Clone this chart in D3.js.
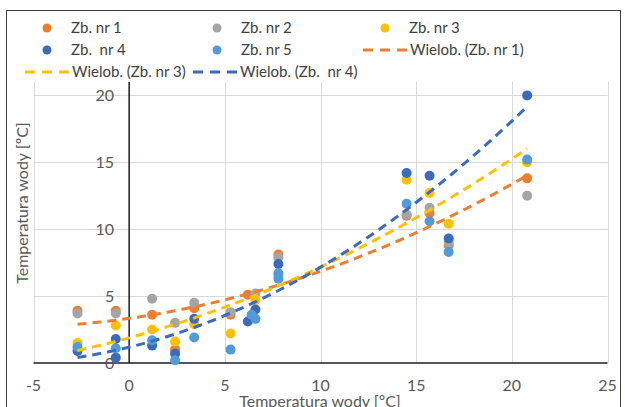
<!DOCTYPE html>
<html>
<head>
<meta charset="utf-8">
<script src="https://cdn.jsdelivr.net/npm/d3@7"></script>
<style>
  body { margin: 0; background: #fff; }
  text { font-family: Lato, "Liberation Sans", sans-serif; }
</style>
</head>
<body>
<div id="vis"></div>
<script>
// series names and colours
const seriesNames = ['Zb. nr 1', 'Zb. nr 2', 'Zb. nr 3', 'Zb.  nr 4', 'Zb. nr 5'];
const seriesColors = ['#ED7D31', '#A5A5A5', '#FFC000', '#3B6BBC', '#519BD8'];

const x1 = [-2.7, -0.7, 1.2, 2.4, 3.4, 5.3, 6.2, 7.8, 14.5, 15.7, 16.7, 20.8];
const y1 = [3.9, 3.9, 3.6, 1.0, 4.1, 3.6, 5.1, 8.1, 11.0, 11.2, 8.8, 13.8];
const x2 = [-2.7, -0.7, 1.2, 2.4, 3.4, 5.3, 6.6, 7.8, 14.5, 15.7, 16.7, 20.8];
const y2 = [3.7, 3.7, 4.8, 3.0, 4.5, 3.8, 5.2, 7.9, 11.1, 11.6, 9.0, 12.5];
const x3 = [-2.7, -0.7, 1.2, 2.4, 3.4, 5.3, 6.6, 7.8, 14.5, 15.7, 16.7, 20.8];
const y3 = [1.5, 2.8, 2.5, 1.6, 2.9, 2.2, 4.7, 6.5, 13.7, 12.7, 10.4, 15.0];
const x4 = [-2.7, -0.7, -0.7, 1.2, 2.4, 3.4, 6.2, 6.6, 7.8, 14.5, 15.7, 16.7, 20.8];
const y4 = [0.9, 1.8, 0.4, 1.3, 0.7, 3.3, 3.1, 4.0, 7.4, 14.2, 14.0, 9.3, 20.0];
const x5 = [-2.7, -0.7, 1.2, 2.4, 3.4, 5.3, 6.4, 6.6, 7.8, 7.8, 14.5, 15.7, 16.7, 20.8];
const y5 = [1.2, 1.1, 1.7, 0.2, 1.9, 1.0, 3.6, 3.3, 6.7, 6.3, 11.9, 10.6, 8.3, 15.2];

const xTicks = [-5, 0, 5, 10, 15, 20, 25];
const yTicks = [0, 5, 10, 15, 20];

// polynomial trendlines (order 2) for these series
const trendSeries = [0, 2, 3];
const trendNames = ['Wielob. (Zb. nr 1)', 'Wielob. (Zb. nr 3)', 'Wielob. (Zb.  nr 4)'];

const axisTitle = 'Temperatura wody [ºC]';

const allX = [x1, x2, x3, x4, x5];
const allY = [y1, y2, y3, y4, y5];

const svg = d3.select('#vis')
.append('svg')
.attr('width', 625)
.attr('height', 407);

// chart border
svg.append('rect')
.attr('x', 6.5)
.attr('y', 10.5)
.attr('width', 614)
.attr('height', 420)
.attr('fill', 'none')
.attr('stroke', '#404040')
.attr('stroke-width', 1);

const x = d3.scaleLinear().domain([-5, 25]).range([33.5, 607.5]);
const y = d3.scaleLinear().domain([0, 21]).range([363, 82]);

// gridlines
svg.selectAll('.hgrid')
.data(yTicks.filter(d => d !== 0))
.enter()
.append('line')
.attr('class', 'hgrid')
.attr('x1', x(-5))
.attr('x2', x(25))
.attr('y1', d => Math.round(y(d)) + 0.5)
.attr('y2', d => Math.round(y(d)) + 0.5)
.attr('stroke', '#d9d9d9');

svg.selectAll('.vgrid')
.data(xTicks.filter(d => d !== 0))
.enter()
.append('line')
.attr('class', 'vgrid')
.attr('x1', d => Math.round(x(d)) + 0.5)
.attr('x2', d => Math.round(x(d)) + 0.5)
.attr('y1', y(21))
.attr('y2', y(0))
.attr('stroke', '#d9d9d9');

// axes lines through zero
svg.append('line')
.attr('x1', x(-5))
.attr('x2', x(25))
.attr('y1', y(0))
.attr('y2', y(0))
.attr('stroke', '#1a1a2e')
.attr('stroke-width', 1.5);

svg.append('line')
.attr('x1', x(0))
.attr('x2', x(0))
.attr('y1', y(21))
.attr('y2', y(0))
.attr('stroke', '#1a1a2e')
.attr('stroke-width', 1.5);

// tick labels
svg.selectAll('.xlabel')
.data(xTicks)
.enter()
.append('text')
.attr('class', 'xlabel')
.attr('x', d => x(d))
.attr('y', 391)
.attr('text-anchor', 'middle')
.attr('font-size', '16px')
.attr('fill', '#595959')
.text(d => d);

svg.selectAll('.ylabel')
.data(yTicks)
.enter()
.append('text')
.attr('class', 'ylabel')
.attr('x', x(0) - 15)
.attr('y', d => y(d))
.attr('dy', '0.35em')
.attr('text-anchor', 'end')
.attr('font-size', '16px')
.attr('fill', '#595959')
.text(d => d);

// axis titles
svg.append('text')
.attr('x', 320)
.attr('y', 407)
.attr('text-anchor', 'middle')
.attr('font-size', '16px')
.attr('fill', '#595959')
.text(axisTitle);

svg.append('text')
.attr('transform', 'translate(28,203) rotate(-90)')
.attr('text-anchor', 'middle')
.attr('font-size', '16px')
.attr('fill', '#595959')
.text(axisTitle);

// points
for (let s = 0; s < 5; s++) {
  const pts = allX[s].map((v, i) => [v, allY[s][i]]);
  svg.append('g')
  .selectAll('circle')
  .data(pts)
  .enter()
  .append('circle')
  .attr('cx', d => x(d[0]))
  .attr('cy', d => y(d[1]))
  .attr('r', 5)
  .attr('fill', seriesColors[s]);
}

// least squares quadratic fit
function fitQuadratic(xs, ys) {
  let S = [0, 0, 0, 0, 0];
  let T = [0, 0, 0];
  for (let i = 0; i < xs.length; i++) {
    let p = 1;
    for (let k = 0; k < 5; k++) { S[k] += p; if (k < 3) T[k] += p * ys[i]; p *= xs[i]; }
  }
  const A = [[S[0], S[1], S[2], T[0]], [S[1], S[2], S[3], T[1]], [S[2], S[3], S[4], T[2]]];
  for (let c = 0; c < 3; c++) {
    for (let r = c + 1; r < 3; r++) {
      const f = A[r][c] / A[c][c];
      for (let k = c; k < 4; k++) A[r][k] -= f * A[c][k];
    }
  }
  const b = [0, 0, 0];
  for (let r = 2; r >= 0; r--) {
    let v = A[r][3];
    for (let k = r + 1; k < 3; k++) v -= A[r][k] * b[k];
    b[r] = v / A[r][r];
  }
  return b;
}

const line = d3.line().x(d => x(d[0])).y(d => y(d[1]));

trendSeries.forEach(s => {
  const b = fitQuadratic(allX[s], allY[s]);
  const lo = d3.min(allX[s]);
  const hi = d3.max(allX[s]);
  const pts = d3.range(0, 61).map(i => {
    const t = lo + (hi - lo) * i / 60;
    return [t, b[0] + b[1] * t + b[2] * t * t];
  });
  svg.append('path')
  .attr('d', line(pts))
  .attr('fill', 'none')
  .attr('stroke', seriesColors[s])
  .attr('stroke-width', 3)
  .attr('stroke-dasharray', '9,6');
});

// legend
const legendItems = [
  {type: 'dot', s: 0, label: seriesNames[0], x: 47, y: 28},
  {type: 'dot', s: 1, label: seriesNames[1], x: 217, y: 28},
  {type: 'dot', s: 2, label: seriesNames[2], x: 385, y: 28},
  {type: 'dot', s: 3, label: seriesNames[3], x: 47, y: 50},
  {type: 'dot', s: 4, label: seriesNames[4], x: 217, y: 50},
  {type: 'line', s: 0, label: trendNames[0], x: 385, y: 50},
  {type: 'line', s: 2, label: trendNames[1], x: 47, y: 72},
  {type: 'line', s: 3, label: trendNames[2], x: 215, y: 72}
];

legendItems.forEach(item => {
  if (item.type === 'dot') {
    svg.append('circle')
    .attr('cx', item.x)
    .attr('cy', item.y)
    .attr('r', 4.5)
    .attr('fill', seriesColors[item.s]);
  } else {
    svg.append('line')
    .attr('x1', item.x - 22)
    .attr('x2', item.x + 22)
    .attr('y1', item.y)
    .attr('y2', item.y)
    .attr('stroke', seriesColors[item.s])
    .attr('stroke-width', 3)
    .attr('stroke-dasharray', '10,7');
  }
  svg.append('text')
  .attr('x', item.type === 'dot' ? item.x + 24 : item.x + 25)
  .attr('y', item.y)
  .attr('dy', '0.35em')
  .attr('font-size', '15px')
  .attr('fill', '#404040')
  .style('white-space', 'pre')
  .text(item.label);
});
</script>
</body>
</html>
